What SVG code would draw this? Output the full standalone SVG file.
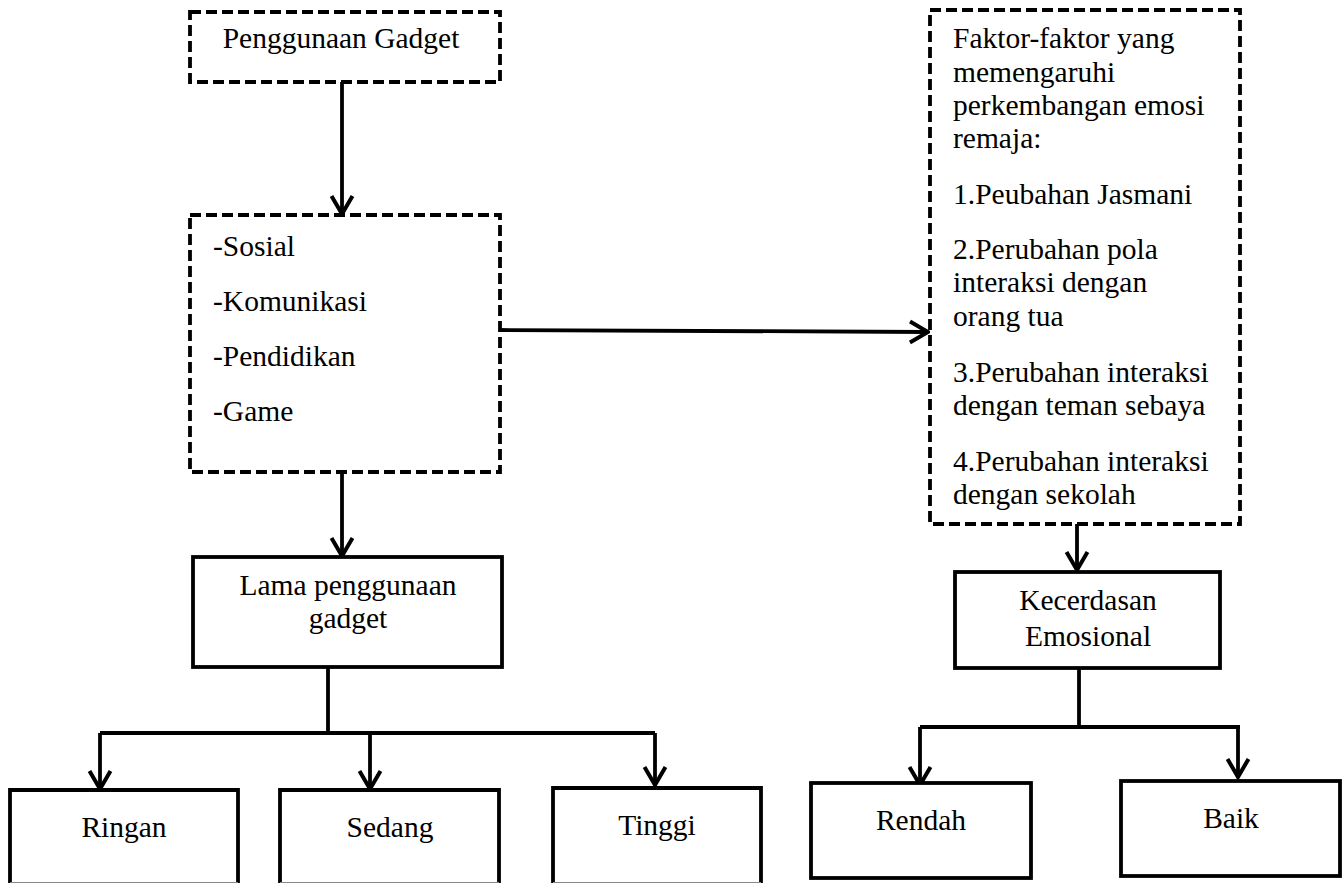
<svg xmlns="http://www.w3.org/2000/svg" width="1343" height="883" viewBox="0 0 1343 883">
<style>
  .dash { fill: #fff; stroke: #000; stroke-width: 3.8; stroke-dasharray: 11 5; }
  .solid { fill: #fff; stroke: #000; stroke-width: 3.8; }
  .t { font-family: "Liberation Serif", "Times New Roman", serif; font-size: 29.5px; fill: #000; }
  .c { text-anchor: middle; }
  .ln { fill: none; stroke: #000; stroke-width: 3.8; }
</style>
<defs>
  <marker id="arr" viewBox="-21 -13 24 26" refX="0" refY="0" markerWidth="24" markerHeight="26" markerUnits="userSpaceOnUse" orient="auto">
    <path d="M-18,-10.5 L0,0 L-18,10.5" fill="none" stroke="#000" stroke-width="4"/>
  </marker>
</defs>
<rect width="1343" height="883" fill="#fff"/>

<g id="connectors">
  <line class="ln" x1="342" y1="82" x2="342" y2="214" marker-end="url(#arr)"/>
  <line class="ln" x1="342" y1="472" x2="342" y2="556" marker-end="url(#arr)"/>
  <line class="ln" x1="500" y1="330" x2="928" y2="332" marker-end="url(#arr)"/>
  <line class="ln" x1="1077" y1="524" x2="1077" y2="570" marker-end="url(#arr)"/>
  <path class="ln" d="M328,667 V733 M100,733 H655"/>
  <line class="ln" x1="100" y1="733" x2="100" y2="789" marker-end="url(#arr)"/>
  <line class="ln" x1="370" y1="733" x2="370" y2="789" marker-end="url(#arr)"/>
  <line class="ln" x1="655" y1="733" x2="655" y2="785" marker-end="url(#arr)"/>
  <path class="ln" d="M1079,668 V727 M920,727 H1240"/>
  <line class="ln" x1="920" y1="727" x2="920" y2="785" marker-end="url(#arr)"/>
  <line class="ln" x1="1238" y1="727" x2="1238" y2="777" marker-end="url(#arr)"/>
</g>

<g id="penggunaan-gadget">
  <rect class="dash" x="190" y="12" width="310" height="70"/>
  <text class="t c" x="341" y="48">Penggunaan Gadget</text>
</g>

<g id="jenis">
  <rect class="dash" x="190" y="215" width="310" height="257"/>
  <text class="t" x="213" y="256">-Sosial</text>
  <text class="t" x="213" y="311">-Komunikasi</text>
  <text class="t" x="213" y="366">-Pendidikan</text>
  <text class="t" x="213" y="421">-Game</text>
</g>

<g id="lama">
  <rect class="solid" x="193" y="557" width="309" height="110"/>
  <text class="t c" x="348" y="595">Lama penggunaan</text>
  <text class="t c" x="348" y="628">gadget</text>
</g>

<g id="ringan">
  <path class="ln" d="M10,883 V790 H238 V883"/>
  <line x1="10" y1="882.5" x2="238" y2="882.5" stroke="#888" stroke-width="1"/>
  <text class="t c" x="124" y="837">Ringan</text>
</g>

<g id="sedang">
  <path class="ln" d="M280,883 V790 H499 V883"/>
  <line x1="280" y1="882.5" x2="499" y2="882.5" stroke="#888" stroke-width="1"/>
  <text class="t c" x="390" y="837">Sedang</text>
</g>

<g id="tinggi">
  <path class="ln" d="M553,883 V788 H761 V883"/>
  <line x1="553" y1="882.5" x2="761" y2="882.5" stroke="#888" stroke-width="1"/>
  <text class="t c" x="657" y="835">Tinggi</text>
</g>

<g id="faktor">
  <rect class="dash" x="930" y="10" width="310" height="514"/>
  <text class="t" x="953" y="48">Faktor-faktor yang</text>
  <text class="t" x="953" y="82">memengaruhi</text>
  <text class="t" x="953" y="115">perkembangan emosi</text>
  <text class="t" x="953" y="148">remaja:</text>
  <text class="t" x="953" y="204">1.Peubahan Jasmani</text>
  <text class="t" x="953" y="259">2.Perubahan pola</text>
  <text class="t" x="953" y="292">interaksi dengan</text>
  <text class="t" x="953" y="326">orang tua</text>
  <text class="t" x="953" y="382">3.Perubahan interaksi</text>
  <text class="t" x="953" y="415">dengan teman sebaya</text>
  <text class="t" x="953" y="471">4.Perubahan interaksi</text>
  <text class="t" x="953" y="504">dengan sekolah</text>
</g>

<g id="kecerdasan">
  <rect class="solid" x="955" y="572" width="265" height="96"/>
  <text class="t c" x="1088" y="610">Kecerdasan</text>
  <text class="t c" x="1088" y="646">Emosional</text>
</g>

<g id="rendah">
  <rect class="solid" x="811" y="783" width="220" height="95"/>
  <text class="t c" x="921" y="830">Rendah</text>
</g>

<g id="baik">
  <rect class="solid" x="1121" y="781" width="219" height="95"/>
  <text class="t c" x="1231" y="828">Baik</text>
</g>
</svg>
